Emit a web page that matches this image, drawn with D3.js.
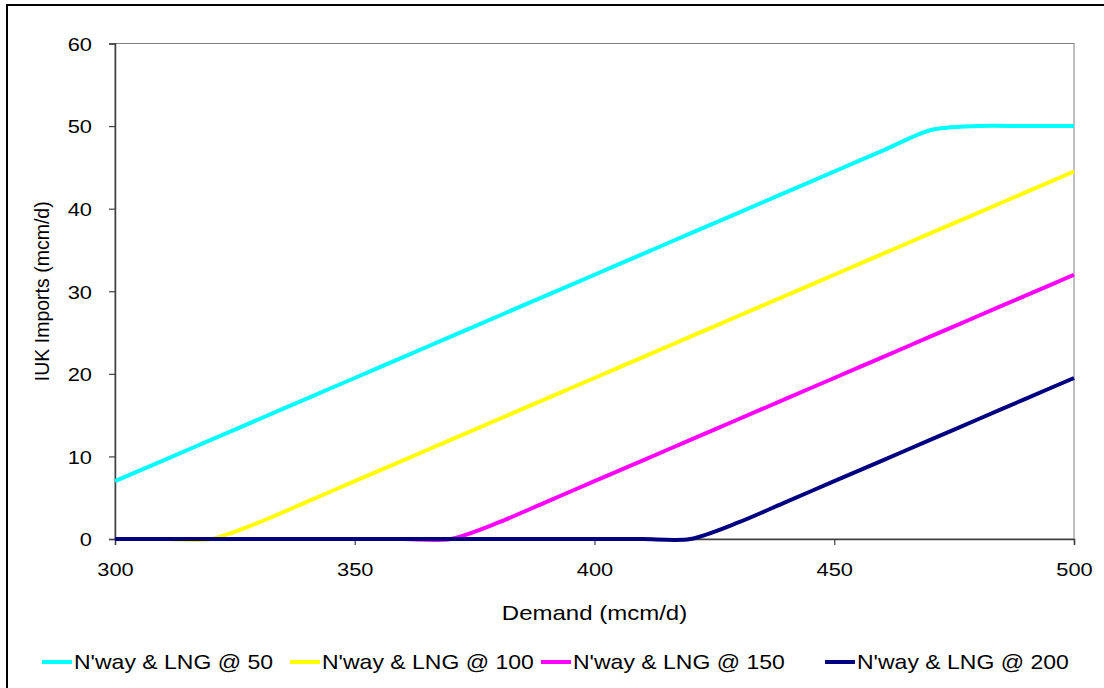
<!DOCTYPE html>
<html>
<head>
<meta charset="utf-8">
<script src="https://cdn.jsdelivr.net/npm/d3@7/dist/d3.min.js"></script>
<style>
  html, body { margin: 0; padding: 0; background: #fff; }
  svg { display: block; }
  text { font-family: Arial, "Liberation Sans", sans-serif; fill: #000; }
</style>
</head>
<body>
<svg id="chart" width="1104" height="688"></svg>
<script>
// ---- data ----
const demand = [300, 310, 320, 330, 340, 350, 360, 370, 380, 390, 400, 410, 420, 430, 440, 450, 460, 470, 480, 490, 500];
const seriesNames = ["N'way & LNG @ 50", "N'way & LNG @ 100", "N'way & LNG @ 150", "N'way & LNG @ 200"];
const seriesColors = ["#00FFFF", "#FFFF00", "#FF00FF", "#000080"];
const imports50  = [7, 9.5, 12, 14.5, 17, 19.5, 22, 24.5, 27, 29.5, 32, 34.5, 37, 39.5, 42, 44.5, 47, 49.5, 50, 50, 50];
const imports100 = [0, 0, 0, 2, 4.5, 7, 9.5, 12, 14.5, 17, 19.5, 22, 24.5, 27, 29.5, 32, 34.5, 37, 39.5, 42, 44.5];
const imports150 = [0, 0, 0, 0, 0, 0, 0, 0, 2, 4.5, 7, 9.5, 12, 14.5, 17, 19.5, 22, 24.5, 27, 29.5, 32];
const imports200 = [0, 0, 0, 0, 0, 0, 0, 0, 0, 0, 0, 0, 0, 2, 4.5, 7, 9.5, 12, 14.5, 17, 19.5];
const xTicks = [300, 350, 400, 450, 500];
const yTicks = [0, 10, 20, 30, 40, 50, 60];
const xTitle = "Demand (mcm/d)";
const yTitle = "IUK Imports (mcm/d)";

const allSeries = [imports50, imports100, imports150, imports200];

// ---- layout ----
const svg = d3.select("#chart");
const plot = { left: 115, right: 1074, top: 43.5, bottom: 539 };
const SX = 1.2;   // horizontal stretch of the original text rendering (axis title)
const SXL = 1.15; // legend
const SXT = 1.15; // tick labels

// outer frame
svg.append("path")
  .attr("d", "M7,700 L7,5 L1110,5")
  .attr("fill", "none").attr("stroke", "#000").attr("stroke-width", 2);

const x = d3.scaleLinear().domain([300, 500]).range([plot.left, plot.right]);
const y = d3.scaleLinear().domain([0, 60]).range([plot.bottom, plot.top]);

// plot area border
svg.append("rect")
  .attr("x", plot.left).attr("y", plot.top)
  .attr("width", plot.right - plot.left).attr("height", plot.bottom - plot.top)
  .attr("fill", "none").attr("stroke", "#808080").attr("stroke-width", 1);

// axes
const xAxis = svg.append("g")
  .attr("transform", `translate(0,${plot.bottom})`)
  .call(d3.axisBottom(x).tickValues(xTicks).tickSize(6).tickPadding(18).tickFormat(d3.format("d")));
const yAxis = svg.append("g")
  .attr("transform", `translate(${plot.left},0)`)
  .call(d3.axisLeft(y).tickValues(yTicks).tickSize(6).tickPadding(17).tickFormat(d3.format("d")));

[xAxis, yAxis].forEach(g => {
  g.select(".domain").attr("stroke", "#404040").attr("stroke-width", 1.5);
  g.selectAll(".tick line").attr("stroke", "#404040").attr("stroke-width", 1.2);
  g.selectAll(".tick text").attr("font-size", 19).attr("font-family", "Arial, 'Liberation Sans', sans-serif").attr("fill", "#000");
});
yAxis.selectAll(".tick text").attr("dy", "0.36em")
  .attr("x", function() { return +d3.select(this).attr("x") / SXT; })
  .attr("transform", `scale(${SXT},1)`);
xAxis.selectAll(".tick text").attr("transform", `scale(${SXT},1)`);

// axis titles
svg.append("text")
  .attr("transform", `translate(${(plot.left + plot.right) / 2},620) scale(${SX},1)`)
  .attr("text-anchor", "middle").attr("font-size", 20)
  .text(xTitle);
svg.append("text")
  .attr("transform", `translate(49,${(plot.top + plot.bottom) / 2}) rotate(-90)`)
  .attr("text-anchor", "middle").attr("font-size", 19.5)
  .text(yTitle);

// lines
const line = d3.line()
  .x((d, i) => x(demand[i]))
  .y(d => y(d))
  .curve(d3.curveCardinal.tension(0.2));

allSeries.forEach((s, k) => {
  svg.append("path")
    .datum(s)
    .attr("d", line)
    .attr("fill", "none")
    .attr("stroke", seriesColors[k])
    .attr("stroke-width", 4)
    .attr("stroke-linejoin", "round");
});

// legend
const legendX = [42, 290, 541, 825];
const legY = 662;
seriesNames.forEach((name, k) => {
  const g = svg.append("g").attr("transform", `translate(${legendX[k]},${legY})`);
  g.append("line").attr("x1", 0).attr("x2", 30).attr("y1", 0).attr("y2", 0)
    .attr("stroke", seriesColors[k]).attr("stroke-width", 4);
  g.append("text").attr("transform", `translate(32,0) scale(${SXL},1)`).attr("dy", "0.36em")
    .attr("font-size", 20).text(name);
});
</script>
</body>
</html>
